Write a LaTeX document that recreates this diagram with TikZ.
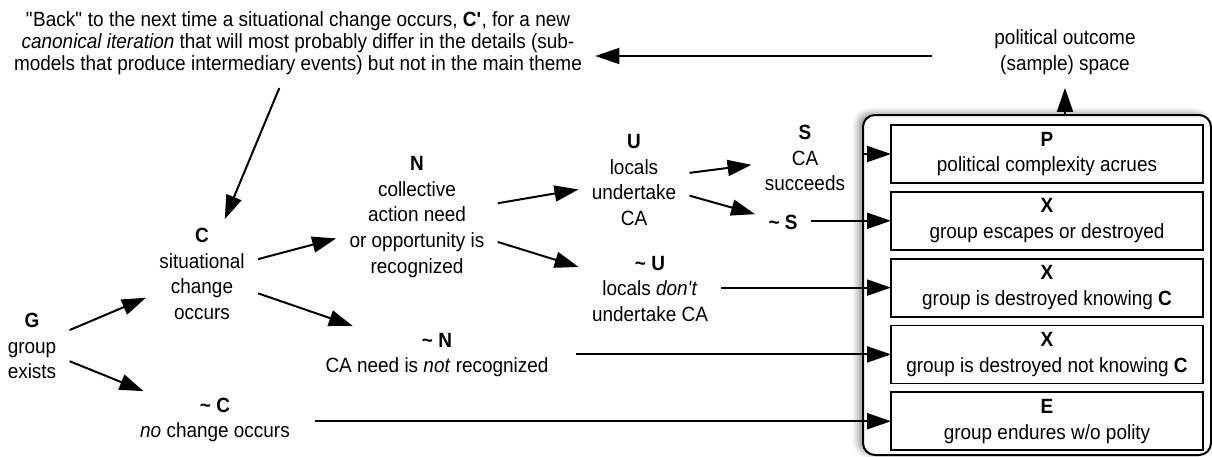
\documentclass[tikz,border=0pt]{standalone}
\usepackage{fontspec}
\setmainfont{Liberation Sans}[FakeStretch=0.92]
\usetikzlibrary{arrows.meta}
\usetikzlibrary{positioning}
\usetikzlibrary{shadows.blur}

\begin{document}
\begin{tikzpicture}[x=0.5pt, y=-0.5pt,
  every node/.style={font=\fontsize{10.3}{12.9}\selectfont, align=center, inner sep=3.2pt, outer sep=3.5pt},
  flow/.style={-{Triangle[length=12pt, width=8pt]}, line width=1pt},
  outcomebox/.style={draw, line width=0.9pt, minimum width=156pt, minimum height=29pt, outer sep=0pt}]
\useasboundingbox (0,0) rectangle (1212,456);
% frame of the outcome space
\node[draw, line width=1pt, rounded corners=6pt, fill=white, minimum width=174pt, minimum height=170pt, outer sep=0pt,
  blur shadow={shadow xshift=-2.5pt, shadow yshift=1pt, shadow blur radius=3pt, shadow opacity=40}] (space) at (1037,285) {};
% outcomes
\node[outcomebox] (p) at (1047,154) {\textbf{P}\\political complexity acrues};
\node[outcomebox, below=4.4pt of p] (x1) {\textbf{X}\\group escapes or destroyed};
\node[outcomebox, below=4.4pt of x1] (x2) {\textbf{X}\\group is destroyed knowing \textbf{C}};
\node[outcomebox, below=4.4pt of x2] (x3) {\textbf{X}\\group is destroyed not knowing \textbf{C}};
\node[outcomebox, below=4.4pt of x3] (e) {\textbf{E}\\group endures w/o polity};
\node (outcome) at (1065,52) {political outcome\\(sample) space};
% stages
\node[font=\fontsize{10.3}{11}\selectfont] (back) at (298,43) {\textquotedbl Back\textquotedbl{} to the next time a situational change occurs, \textbf{C\textquotesingle}, for a new\\
  \textit{canonical iteration} that will most probably differ in the details (sub-\\
  models that produce intermediary events) but not in the main theme};
\node (g) at (32,346) {\textbf{G}\\group\\exists};
\node (c) at (202,274) {\textbf{C}\\situational\\change\\occurs};
\node (nc) at (215,420) {\textbf{\textasciitilde{} C}\\\textit{no} change occurs};
\node (n) at (417,217) {\textbf{N}\\collective\\action need\\or opportunity is\\recognized};
\node (nn) at (437,355) {\textbf{\textasciitilde{} N}\\CA need is \textit{not} recognized};
\node (u) at (634,180) {\textbf{U}\\locals\\undertake\\CA};
\node (nu) at (650,289) {\textbf{\textasciitilde{} U}\\locals \textit{don\textquotesingle t}\\undertake CA};
\node (s) at (805,158) {\textbf{S}\\CA\\succeeds};
\node (ns) at (783,222) {\textbf{\textasciitilde{} S}};
\coordinate (ret) at (932,56);
% arrows between stages
\draw[flow] (g) -- (c);
\draw[flow, shorten >=-9pt] (g) -- (nc);
\draw[flow] (c) -- (n);
\draw[flow, shorten >=-10pt] (c) -- (nn);
\draw[flow] (n) -- (u);
\draw[flow] (n) -- (nu);
\draw[flow] (u) -- (s);
\draw[flow] (u) -- (ns);
\draw[flow, shorten >=-2.5pt] (back) -- (c);
% arrows into the outcome space
\draw[flow] (space.west |- p) -- (p.west);
\draw[flow] (ns.east |- x1) -- (x1.west);
\draw[flow] (nu.east |- x2) -- (x2.west);
\draw[flow, shorten <=7pt] (nn.east |- x3) -- (x3.west);
\draw[flow, shorten <=6pt] (nc.east |- e) -- (e.west);
\draw[flow] (space.north -| outcome) -- (outcome);
\draw[flow] (ret) -- (ret -| back.east);
\end{tikzpicture}
\end{document}
